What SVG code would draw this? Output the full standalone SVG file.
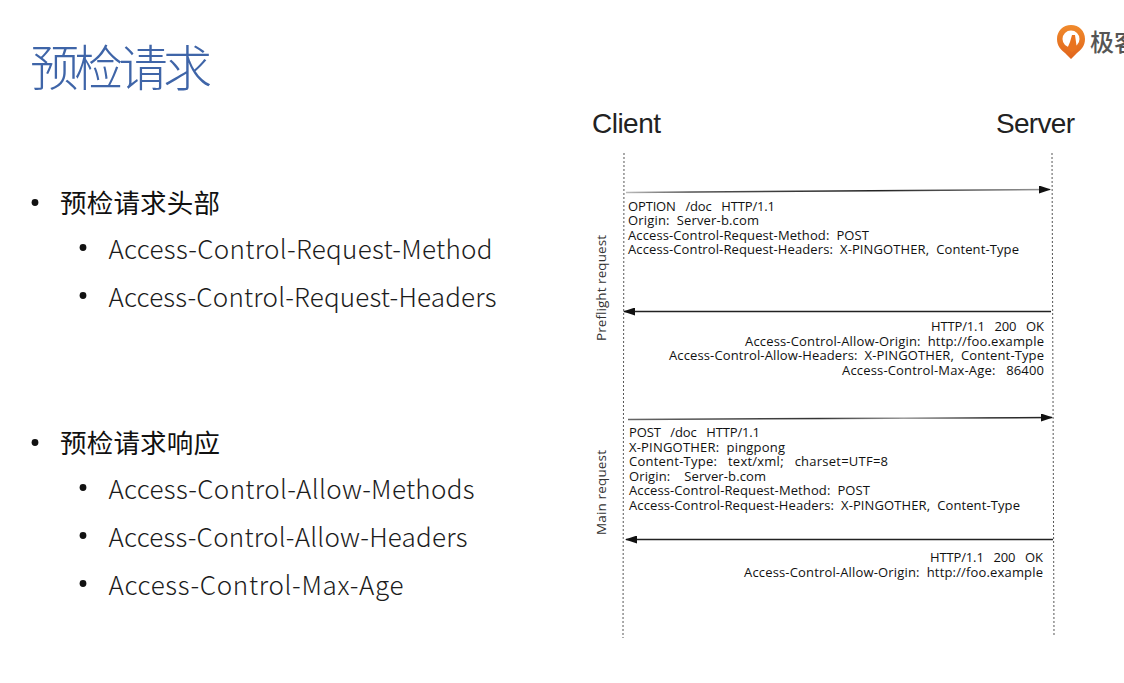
<svg xmlns="http://www.w3.org/2000/svg" width="1124" height="683" viewBox="0 0 1124 683">
<defs>
<style>
text{white-space:pre;font-family:"Noto Sans CJK SC","Noto Sans",sans-serif}
.title{font-size:49px;fill:#3f65a8;font-weight:300}
.h{font-size:26.5px;fill:#111}
.s{font-size:26px;fill:#1c1c1c;font-weight:300}
.d{font-size:13px;fill:#111;font-family:"Open Sans","DejaVu Sans",sans-serif}
.v{font-size:13.500px;fill:#333;font-family:"Open Sans","DejaVu Sans",sans-serif}
.cs{font-size:28px;fill:#222;font-family:"Liberation Sans",Arial,sans-serif}
.life{stroke:#555;stroke-width:1;stroke-dasharray:2 2;fill:none}
.msg{stroke-width:1.500;fill:none}
.dot{fill:#111}
</style>
<marker id="ah" markerWidth="12" markerHeight="8" refX="11" refY="4" orient="auto" markerUnits="userSpaceOnUse"><path d="M0 0L12 4L0 8Z" fill="#111"/></marker>
<linearGradient id="g1" gradientUnits="userSpaceOnUse" x1="626" y1="0" x2="1050" y2="0"><stop offset="0" stop-color="#bbb"/><stop offset="0.15" stop-color="#555"/><stop offset="0.6" stop-color="#222"/><stop offset="1" stop-color="#999"/></linearGradient>
<linearGradient id="g2" gradientUnits="userSpaceOnUse" x1="628" y1="0" x2="1052" y2="0"><stop offset="0" stop-color="#666"/><stop offset="0.45" stop-color="#333"/><stop offset="0.65" stop-color="#999"/><stop offset="0.85" stop-color="#333"/><stop offset="1" stop-color="#222"/></linearGradient>
<linearGradient id="pin" x1="0" y1="0" x2="0" y2="1"><stop offset="0" stop-color="#f08a2c"/><stop offset="1" stop-color="#e0641c"/></linearGradient>
</defs>
<rect width="1124" height="683" fill="#fff"/>
<g id="logo">
<path d="M1071 25c-8 0-14 6-14 14c0 7 4 11 8 14l6 6l6-6c4-3 8-7 8-14c0-8-6-14-14-14Z" fill="url(#pin)"/>
<circle cx="1071" cy="39" r="8.500" fill="#fff"/>
<path d="M1072 35l3 0l2 14l-5 3l-5-3l3-7Z" fill="#e9731f"/>
<text x="1090" y="51" font-size="24" font-weight="500" style="fill:#555">极客</text>
</g>
<text id="title" class="title" x="30" y="85.500" textLength="182">预检请求</text>
<g id="bullets">
<circle class="dot" cx="35" cy="202.500" r="3.400"/>
<text class="h" x="60" y="212.500" textLength="160">预检请求头部</text>
<circle class="dot" cx="83" cy="247.500" r="3.400"/>
<text class="s" x="108.500" y="259" textLength="384">Access-Control-Request-Method</text>
<circle class="dot" cx="83" cy="295.500" r="3.400"/>
<text class="s" x="108.500" y="307" textLength="388">Access-Control-Request-Headers</text>
<circle class="dot" cx="35" cy="442.500" r="3.400"/>
<text class="h" x="60" y="452.500" textLength="160">预检请求响应</text>
<circle class="dot" cx="83" cy="487.500" r="3.400"/>
<text class="s" x="108.500" y="499" textLength="366">Access-Control-Allow-Methods</text>
<circle class="dot" cx="83" cy="535.500" r="3.400"/>
<text class="s" x="108.500" y="547" textLength="359">Access-Control-Allow-Headers</text>
<circle class="dot" cx="83" cy="583.500" r="3.400"/>
<text class="s" x="108.500" y="595" textLength="295">Access-Control-Max-Age</text>
</g>
<g id="client"><text class="cs" x="592" y="132.500" textLength="69">Client</text></g>
<g id="server"><text class="cs" x="996" y="132.500" textLength="79">Server</text></g>
<g id="connectors">
<path class="life" d="M624 153L623 638"/>
<path class="life" d="M1052 153L1054 636"/>
<path class="msg" stroke="url(#g1)" d="M626 192.500L1050 189.500" marker-end="url(#ah)"/>
<path class="msg" stroke="#222" d="M1051 311.500L624 311.500" marker-end="url(#ah)"/>
<path class="msg" stroke="url(#g2)" d="M628 419.500L1052 417.500" marker-end="url(#ah)"/>
<path class="msg" stroke="#222" d="M1053 539.500L626 539.500" marker-end="url(#ah)"/>
</g>
<g id="preflight-labels">
<text class="v" transform="translate(606 341) rotate(-90)" textLength="106">Preflight request</text>
<text class="d" x="628" y="211" textLength="147">OPTION   /doc   HTTP/1.1</text>
<text class="d" x="628" y="225" textLength="131">Origin:  Server-b.com</text>
<text class="d" x="628" y="240" textLength="241">Access-Control-Request-Method:  POST</text>
<text class="d" x="628" y="254" textLength="391">Access-Control-Request-Headers:  X-PINGOTHER,  Content-Type</text>
<text class="d" x="931" y="331" textLength="113">HTTP/1.1   200   OK</text>
<text class="d" x="745" y="346" textLength="299">Access-Control-Allow-Origin:  http://foo.example</text>
<text class="d" x="669" y="360" textLength="375">Access-Control-Allow-Headers:  X-PINGOTHER,  Content-Type</text>
<text class="d" x="842" y="375" textLength="202">Access-Control-Max-Age:   86400</text>
</g>
<g id="main-labels">
<text class="v" transform="translate(606 535) rotate(-90)" textLength="85">Main request</text>
<text class="d" x="629" y="437" textLength="131">POST   /doc   HTTP/1.1</text>
<text class="d" x="629" y="452" textLength="156">X-PINGOTHER:  pingpong</text>
<text class="d" x="629" y="466" textLength="259">Content-Type:   text/xml;   charset=UTF=8</text>
<text class="d" x="629" y="481" textLength="137">Origin:    Server-b.com</text>
<text class="d" x="629" y="495" textLength="241">Access-Control-Request-Method:  POST</text>
<text class="d" x="629" y="510" textLength="391">Access-Control-Request-Headers:  X-PINGOTHER,  Content-Type</text>
<text class="d" x="930" y="562" textLength="113">HTTP/1.1   200   OK</text>
<text class="d" x="744" y="577" textLength="299">Access-Control-Allow-Origin:  http://foo.example</text>
</g>
</svg>
